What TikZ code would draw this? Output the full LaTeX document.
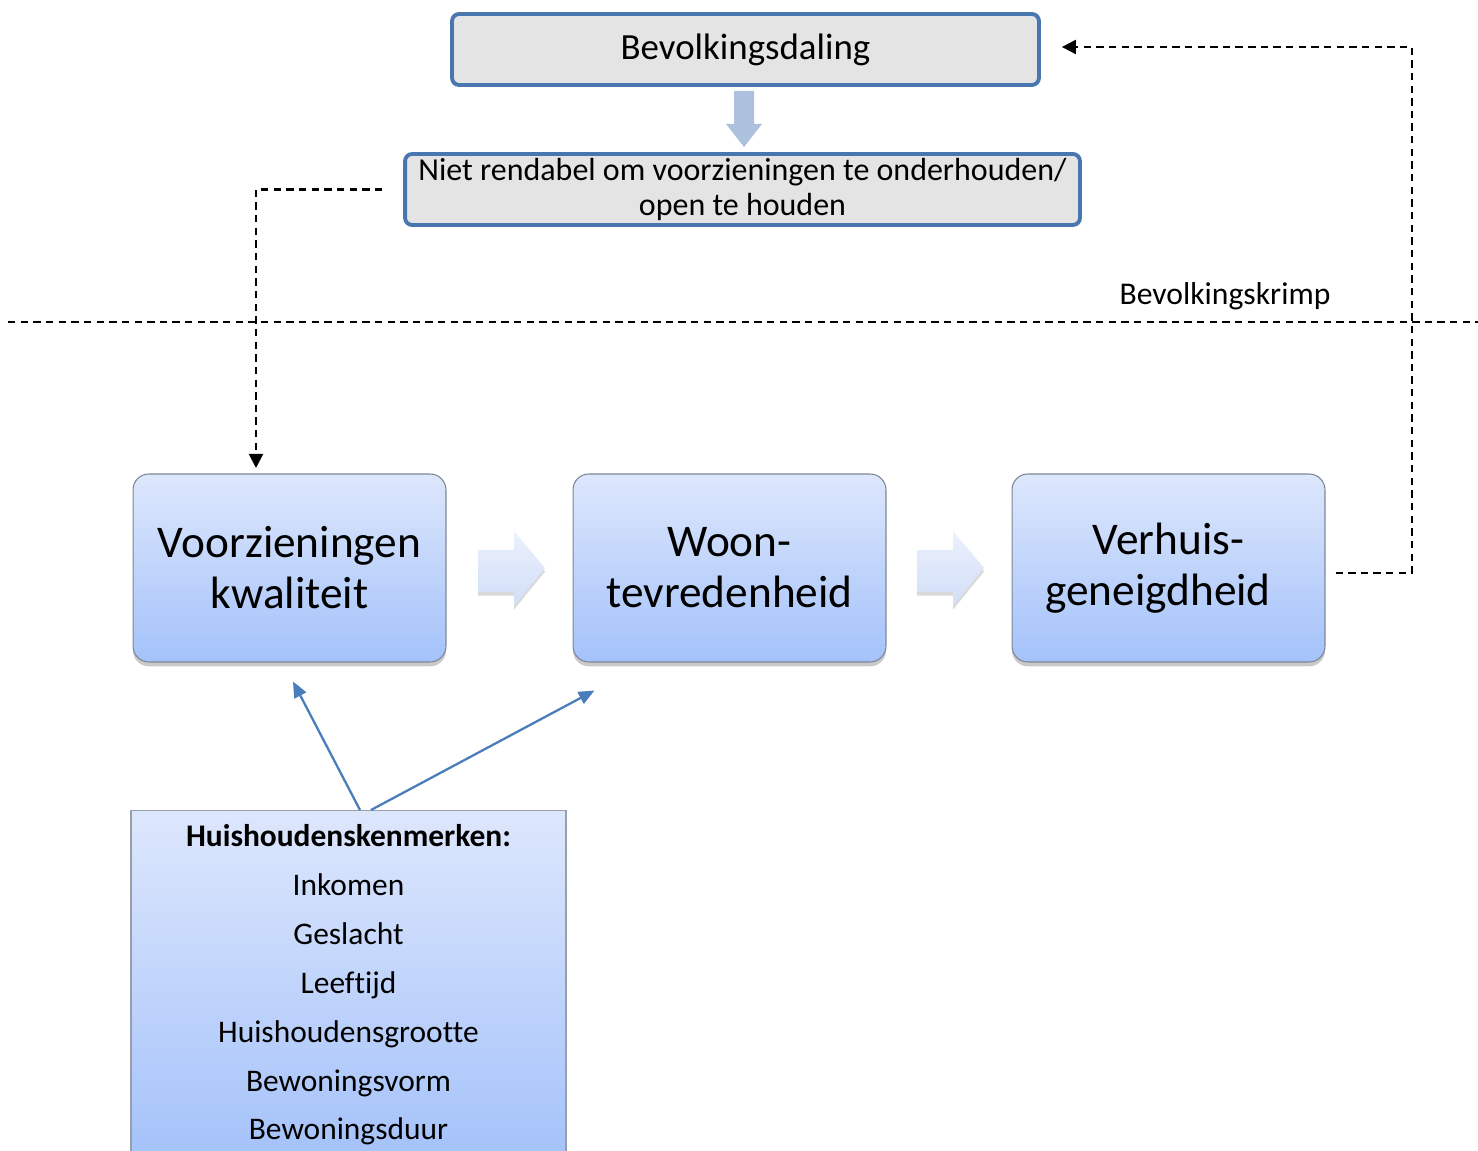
\documentclass[tikz,border=0pt]{standalone}
\usepackage{fontspec}
\setmainfont{Carlito}[Ligatures={NoCommon,NoContextual},Contextuals=NoAlternate]
\usetikzlibrary{positioning,arrows.meta,shadows}
\definecolor{randblauw}{HTML}{4A76B0}
\definecolor{grijsvlak}{HTML}{E4E4E4}
\definecolor{staptop}{HTML}{DDE7FC}
\definecolor{stapbodem}{HTML}{A4C2FA}
\definecolor{staprand}{HTML}{7C8796}
\definecolor{blokblauw}{HTML}{ADC0DD}
\definecolor{pijltop}{HTML}{EBF1FD}
\definecolor{pijlbodem}{HTML}{D2DEF8}
\definecolor{lijnblauw}{HTML}{4A7EBB}

\begin{document}
\begin{tikzpicture}[x=0.02cm,y=-0.02cm,
  kopbox/.style={draw=randblauw,line width=2.2pt,fill=grijsvlak,rounded corners=4pt,align=center,minimum height=1.42cm,inner sep=2pt},
  stapbox/.style={draw=staprand,line width=0.6pt,top color=staptop,bottom color=stapbodem,rounded corners=9pt,
    minimum width=6.26cm,minimum height=3.76cm,align=center,font=\fontsize{25.8}{29}\selectfont,
    drop shadow={shadow xshift=0pt,shadow yshift=-2.5pt,opacity=0.3,fill=black!70}},
  blokpijl/.style={top color=pijltop,bottom color=pijlbodem,
    drop shadow={shadow xshift=0pt,shadow yshift=-2pt,opacity=0.25,fill=black!60}},
  stippel/.style={line width=1.15pt,dash pattern=on 4.2pt off 3pt},
  stippelpijl/.style={stippel,-{Triangle[length=8pt,width=8pt]}},
  blauwpijl/.style={draw=lijnblauw,line width=1.3pt,-{Triangle[length=9pt,width=7.5pt]}}]

\clip (0,0) rectangle (1478,1151);

\node[kopbox,minimum width=11.74cm,font=\fontsize{21}{24}\selectfont] (daling) at (745.5,49.5) {Bevolkingsdaling};
\node[kopbox,minimum width=13.5cm,font=\fontsize{18.2}{19.8}\selectfont] (rend) at (742.5,189.5) {Niet rendabel om voorzieningen te onderhouden/\\open te houden};

\fill[blokblauw] (734,91) -- (754,91) -- (754,124) -- (762,124) -- (744,147) -- (726,124) -- (734,124) -- cycle;

\node[font=\fontsize{18}{20}\selectfont] (krimp) at (1225,296) {Bevolkingskrimp};
\coordinate (grensL) at (8,322);
\coordinate (grensR) at (1478,322);
\draw[stippel] (grensL) -- (grensR);

\node[stapbox] (voorz) at (289.5,568) {Voorzieningen\\kwaliteit};
\node[stapbox] (woon) at (729.5,568) {Woon-\\tevredenheid};
\node[stapbox] (verh) at (1168.5,568) {Verhuis-\\geneigdheid\hspace*{12pt}};

\foreach \dx in {0,439}
  \path[blokpijl] (478+\dx,550) -- (514+\dx,550) -- (514+\dx,531) -- (545+\dx,568)
    -- (514+\dx,606) -- (514+\dx,592) -- (478+\dx,592) -- cycle;

\node[anchor=north,draw=staprand!80,line width=0.8pt,top color=staptop,bottom color=stapbodem,
  minimum width=8.7cm,inner ysep=8pt,align=center,font=\fontsize{17.9}{27.8}\selectfont] (huish) at (348.5,810)
  {\textbf{Huishoudenskenmerken:}\\Inkomen\\Geslacht\\Leeftijd\\Huishoudensgrootte\\Bewoningsvorm\\Bewoningsduur};

\coordinate (hoek) at (1412,47);
\coordinate (voorzin) at (256,468);

\draw[stippelpijl] ([xshift=-11.9pt]rend.west) -| (voorzin);
\draw[stippelpijl] ([shift={(10,5)}]verh.east) -| (hoek) -- ([shift={(21,-2.5)}]daling.east);

\draw[blauwpijl] ([shift={(11.5,0)}]huish.north) -- ([shift={(3.5,19)}]voorz.south);
\draw[blauwpijl] ([shift={(22.5,0)}]huish.north) -- ([shift={(22,28)}]woon.south west);

\end{tikzpicture}
\end{document}
